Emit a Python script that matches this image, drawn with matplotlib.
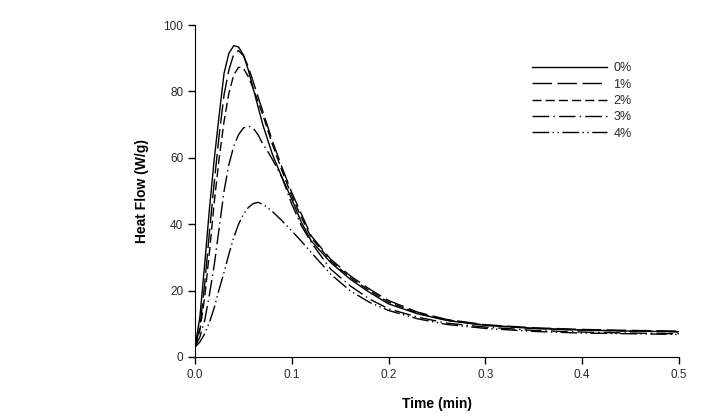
import matplotlib
matplotlib.use("Agg")
import matplotlib.pyplot as plt

plt.rcParams['font.family'] = ['Liberation Sans', 'DejaVu Sans']

time = [0.0, 0.005, 0.01, 0.015, 0.02, 0.025, 0.03, 0.035, 0.04, 0.045, 0.05,
        0.055, 0.06, 0.065, 0.07, 0.075, 0.08, 0.09, 0.10, 0.11, 0.12, 0.14,
        0.16, 0.18, 0.20, 0.23, 0.26, 0.30, 0.35, 0.40, 0.45, 0.50]

hf_0 = [3, 12, 28, 45, 60, 73, 85.5, 91.5, 93.8, 93.4, 91,
        86.5, 81, 75.5, 70, 65.5, 61, 54, 47.5, 40.5, 35, 28.5,
        23.5, 19.5, 16, 13, 11, 9.5, 8.6, 8.1, 7.8, 7.6]
hf_1 = [3, 9, 22, 38, 53, 67, 79, 86.5, 91.2, 92.3, 90.8,
        87.5, 83, 78.5, 74, 69.5, 65, 57, 49.5, 43, 36.5, 29.5,
        24.5, 20.5, 17, 13.5, 11.3, 9.7, 8.8, 8.3, 8.0, 7.8]
hf_2 = [3, 8, 18, 32, 47, 60, 71, 79.5, 85, 87.3, 87,
        84.5, 81, 77, 73, 68.5, 64, 56, 48.5, 42, 36, 29,
        24, 20, 16.5, 13.2, 11.1, 9.6, 8.6, 8.1, 7.8, 7.6]
hf_3 = [3, 6, 11, 19, 28, 39, 50, 58, 63.5, 67, 69,
        69.6, 69, 67, 64.2, 62, 59.5, 54, 46, 39.5, 34.5, 26.5,
        21.5, 17.5, 14.5, 12, 10.2, 9.0, 8.0, 7.5, 7.2, 7.0]
hf_4 = [3, 4.5, 7, 10.5, 15, 20.5, 25.5, 31, 36, 40, 43,
        45, 46.2, 46.6, 46, 45, 43.8, 41, 38, 34.8, 31.5, 25,
        20, 16.5, 14, 11.5, 9.8, 8.6, 7.7, 7.2, 7.0, 6.8]

labels = ['0%', '1%', '2%', '3%', '4%']
series = [hf_0, hf_1, hf_2, hf_3, hf_4]
styles = ['-', (0, (14, 4)), (0, (6.5, 3)), (0, (12, 3, 1, 3)),
          (0, (12, 2.5, 1, 2.5, 1, 2.5))]

xticks = [0.0, 0.1, 0.2, 0.3, 0.4, 0.5]
yticks = [0, 20, 40, 60, 80, 100]

fig = plt.figure(figsize=(7.25, 4.18), dpi=100)
ax = fig.add_axes([0.269, 0.146, 0.9366 - 0.269, 0.940 - 0.146])

for y, lab, ls in zip(series, labels, styles):
    ax.plot(time, y, color='black', linestyle=ls, linewidth=1.0, label=lab)

ax.set_xlim(0, 0.5)
ax.set_ylim(0, 100)
ax.set_xticks(xticks)
ax.set_xticklabels([f"{v:.1f}" for v in xticks])
ax.set_yticks(yticks)
ax.spines['top'].set_visible(False)
ax.spines['right'].set_visible(False)
ax.tick_params(direction='out', length=5, width=1, labelsize=8.5, colors='black',
               labelcolor='#2a2a2a')
ax.set_xlabel('Time (min)', fontsize=10, fontweight='bold', labelpad=12)
ax.set_ylabel('Heat Flow (W/g)', fontsize=10, fontweight='bold', labelpad=10)

leg = ax.legend(loc='upper left', bbox_to_anchor=(526 / 725, 1 - 56 / 418),
                bbox_transform=fig.transFigure, frameon=False, fontsize=9,
                handlelength=6.0, labelspacing=0.35, borderpad=0, handletextpad=0.5)
for t in leg.get_texts():
    t.set_color('#2a2a2a')

fig.savefig('out.png', dpi=100)
